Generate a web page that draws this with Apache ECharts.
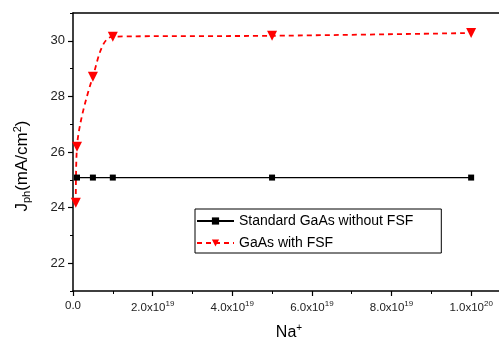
<!DOCTYPE html>
<html><head><meta charset="utf-8">
<script src="https://cdn.jsdelivr.net/npm/echarts@6/dist/echarts.min.js"></script>
<style>html,body{margin:0;padding:0;background:#fff}#c{width:499px;height:341px}</style>
</head><body><div id="c"></div>
<script>
const seriesNames = ['Standard GaAs without FSF', 'GaAs with FSF'];
const stdX = [1e18, 5e18, 1e19, 5e19, 1e20];
const stdY = [25.08, 25.08, 25.08, 25.08, 25.08];
const fsfX = [7e17, 1e18, 5e18, 1e19, 5e19, 1e20];
const fsfY = [24.17, 26.19, 28.71, 30.15, 30.18, 30.28];
const xMajor = [0, 2e19, 4e19, 6e19, 8e19, 1e20];
const xMinor = [1e19, 3e19, 5e19, 7e19, 9e19];
const yMajor = [22, 24, 26, 28, 30];
const yMinor = [21, 23, 25, 27, 29, 31];

const font = 'Liberation Sans, Arial, sans-serif';
function xfmt(v) {
  if (v === 0) return '0.0';
  const e = Math.floor(Math.log10(v) + 1e-9);
  const m = v / Math.pow(10, e);
  return m.toFixed(1) + 'x10{s|' + e + '}';
}
const chart = echarts.init(document.getElementById('c'), null, {renderer: 'canvas'});
const axisLine = {show: true, lineStyle: {color: '#000', width: 1.5}};
chart.setOption({
  animation: false,
  backgroundColor: '#fff',
  grid: {left: 73, right: 0, top: 13, bottom: 50, containLabel: false, outerBoundsMode: 'none'},
  legend: {
    orient: 'vertical', left: 195, top: 209,
    data: seriesNames,
    itemWidth: 37, itemHeight: 9, itemGap: 8,
    borderColor: '#000', borderWidth: 1, borderRadius: 0,
    backgroundColor: '#fff',
    padding: [5, 28, 3, 1],
    textStyle: {fontFamily: font, fontSize: 14, color: '#000'}
  },
  xAxis: [{
    type: 'value', min: 0, max: 1.07e20, position: 'bottom',
    axisLine: axisLine, splitLine: {show: false},
    axisTick: {show: true, inside: false, length: 5, customValues: xMajor, lineStyle: {color: '#000', width: 1.2}},
    axisLabel: {customValues: xMajor, formatter: xfmt, fontFamily: font, fontSize: 11.5, color: '#222', margin: 9,
      rich: {s: {fontSize: 8, fontFamily: font, color: '#222', verticalAlign: 'top', padding: [0, 0, 8, 0]}}},
    name: 'Na{s|+}', nameLocation: 'middle', nameGap: 32,
    nameTextStyle: {fontFamily: font, fontSize: 16, color: '#000', padding: [0, 0, 0, 6],
      rich: {s: {fontSize: 10, fontFamily: font, color: '#000', padding: [0, 0, 10, 0]}}}
  }, {
    type: 'value', min: 0, max: 1.07e20, position: 'bottom',
    axisLine: {show: false}, splitLine: {show: false}, axisLabel: {show: false},
    axisTick: {show: true, length: 3, customValues: xMinor, lineStyle: {color: '#000', width: 1}}
  }, {
    type: 'value', min: 0, max: 1.07e20, position: 'top',
    axisLine: axisLine, splitLine: {show: false}, axisLabel: {show: false}, axisTick: {show: false}
  }],
  yAxis: [{
    type: 'value', min: 21, max: 31, position: 'left',
    axisLine: axisLine, splitLine: {show: false},
    axisTick: {show: true, length: 5, customValues: yMajor, lineStyle: {color: '#000', width: 1.2}},
    axisLabel: {customValues: yMajor, fontFamily: font, fontSize: 13, color: '#222', margin: 8},
    name: 'J{b|ph}(mA/cm{t|2})', nameLocation: 'middle', nameRotate: 90, nameGap: 40,
    nameTextStyle: {fontFamily: font, fontSize: 17, color: '#000', padding: [0, 28, 0, 0],
      rich: {b: {fontSize: 11, fontFamily: font, color: '#000', padding: [8, 0, 0, 0]},
             t: {fontSize: 11, fontFamily: font, color: '#000', padding: [0, 0, 10, 0]}}}
  }, {
    type: 'value', min: 21, max: 31, position: 'left',
    axisLine: {show: false}, splitLine: {show: false}, axisLabel: {show: false},
    axisTick: {show: true, length: 3, customValues: yMinor, lineStyle: {color: '#000', width: 1}}
  }],
  series: [{
    name: seriesNames[0], type: 'line',
    data: stdX.map((x, i) => [x, stdY[i]]),
    symbol: 'rect', symbolSize: 6,
    lineStyle: {color: '#000', width: 1.2},
    itemStyle: {color: '#000'}
  }, {
    name: seriesNames[1], type: 'line', smooth: 0.3,
    data: fsfX.map((x, i) => [x, fsfY[i]]),
    symbol: 'triangle', symbolSize: 10, symbolRotate: 180,
    lineStyle: {color: '#ff0000', width: 1.8, type: [5, 4]},
    itemStyle: {color: '#ff0000'}
  }]
});
</script></body></html>
